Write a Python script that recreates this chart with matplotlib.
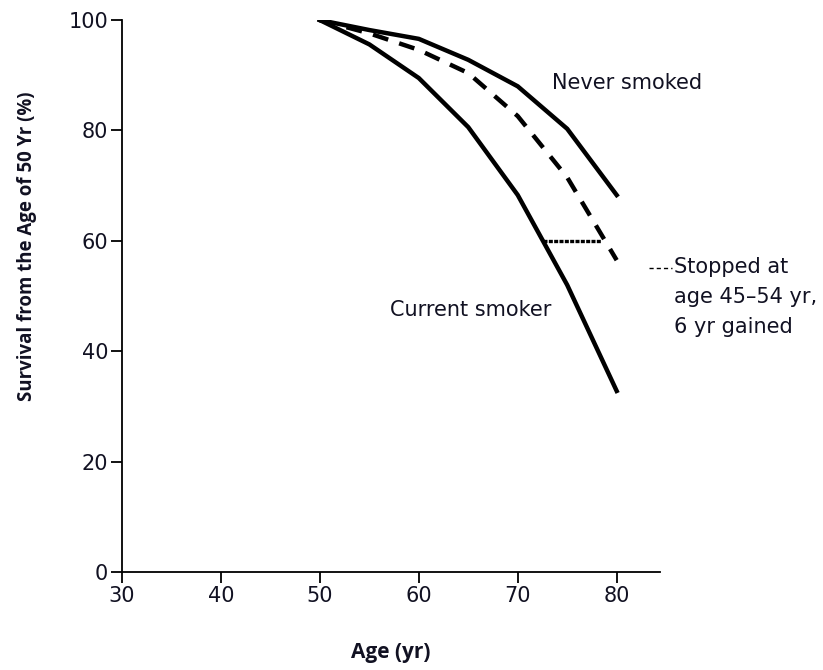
import matplotlib
matplotlib.use("Agg")
import matplotlib.pyplot as plt

plt.rcParams['font.family'] = ['DejaVu Sans']

# survival curves (age in yr, survival in %)
ages = [50, 55, 60, 65, 70, 75, 80]
never_smoked = [100, 98.2, 96.6, 92.8, 88.0, 80.3, 68.3]
current_smoker = [100, 95.6, 89.5, 80.6, 68.3, 52.0, 32.8]
stopped_45_54 = [100, 97.6, 94.6, 90.4, 82.6, 71.5, 56.5]

# years gained at 60% survival
gain_x = [72.6, 78.4]
gain_y = [60, 60]

xticks = [30, 40, 50, 60, 70, 80]
yticks = [0, 20, 40, 60, 80, 100]

fig = plt.figure(figsize=(8.23, 6.70), dpi=100)
ax = fig.add_axes([0.1482, 0.1463, 0.654, 0.8237])

ax.plot(ages, never_smoked, color='black', lw=3.2, solid_joinstyle='miter')
ax.plot(ages, current_smoker, color='black', lw=3.2, solid_joinstyle='miter')
ax.plot(ages, stopped_45_54, color='black', lw=3.2, dashes=(3.6, 2.6))
ax.plot(gain_x, gain_y, color='black', lw=2.4, dashes=(1.2, 0.4))

# leader line to the "stopped" label
ax.plot([83.3, 85.6], [55, 55], color='black', lw=1.0, dashes=(3, 2.2),
        clip_on=False)

txt_kw = dict(fontsize=15, color='#111122')
ax.text(73.5, 88.6, 'Never smoked', va='center', ha='left', **txt_kw)
ax.text(57.1, 47.5, 'Current smoker', va='center', ha='left', **txt_kw)
ax.text(85.8, 57.0, 'Stopped at\nage 45\u201354 yr,\n6 yr gained', va='top',
        ha='left', linespacing=1.6, clip_on=False, **txt_kw)

ax.set_xlim(30, 84.4)
ax.set_ylim(0, 100)
ax.set_xticks(xticks)
ax.set_yticks(yticks)
ax.tick_params(direction='out', length=8, width=1.3, labelsize=15,
               labelcolor='#111122', pad=2)

for s in ['top', 'right']:
    ax.spines[s].set_visible(False)
for s in ['left', 'bottom']:
    ax.spines[s].set_linewidth(1.3)

lab_kw = dict(fontweight='bold', color='#111122',
              family=['Open Sans', 'DejaVu Sans'])
ax.set_xlabel('Age (yr)', fontsize=15, **lab_kw)
ax.xaxis.set_label_coords(0.5, -0.126)
ax.set_ylabel('Survival from the Age of 50 Yr (%)', fontsize=13.4, **lab_kw)
ax.yaxis.set_label_coords(-0.158, 0.59)

fig.savefig('out.png', dpi=100)
